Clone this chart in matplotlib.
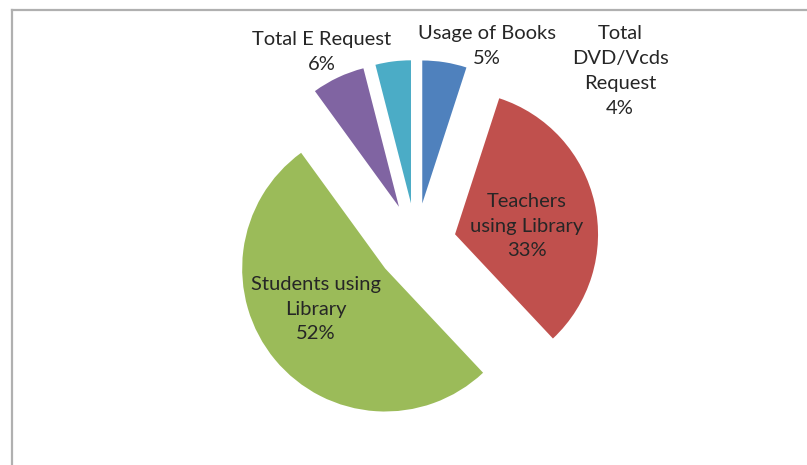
import matplotlib
matplotlib.use("Agg")
import matplotlib.pyplot as plt
from matplotlib.lines import Line2D

# ----------------------------
# Datos
# ----------------------------
labels = ["Usage of Books", "Teachers\nusing Library", "Students using\nLibrary",
          "Total E Request", "Total\nDVD/Vcds\nRequest"]
values = [5, 33, 52, 6, 4]
colors = ["#4F81BD", "#C0504D", "#9BBB59", "#8064A2", "#4BACC6"]

# posiciones de las etiquetas (pixeles de la imagen)
label_pos = [(487, 46), (527, 226), (316, 309), (322, 52), (620, 71)]

W, H = 807, 465
fig = plt.figure(figsize=(W / 100, H / 100), dpi=100)
ax = fig.add_axes([0, 0, 1, 1])
ax.set_xlim(0, W)
ax.set_ylim(0, H)
ax.set_aspect("equal")
ax.axis("off")

# Pie explotado (coordenadas en pixeles, y hacia arriba)
cx, cy, r = 416, H - 243, 143
ax.pie(values, colors=colors, startangle=90, counterclock=False,
       explode=[40] * len(values), radius=r, center=(cx, cy),
       wedgeprops=dict(linewidth=0))
ax.set_xlim(0, W)
ax.set_ylim(0, H)

for lab, v, (px, py) in zip(labels, values, label_pos):
    ax.text(px, H - py, f"{lab}\n{v}%", ha="center", va="center",
            fontsize=14.5, family="Lato", color="#262626", linespacing=1.55)

# Marco gris
fig.add_artist(Line2D([11.5 / W, 11.5 / W], [0, 1 - 10.5 / H], color="#b0b0b0", lw=1.6,
                      transform=fig.transFigure))
fig.add_artist(Line2D([11.5 / W, 1], [1 - 10.5 / H, 1 - 10.5 / H], color="#b0b0b0", lw=1.6,
                      transform=fig.transFigure))

fig.savefig("out.png", dpi=100)
